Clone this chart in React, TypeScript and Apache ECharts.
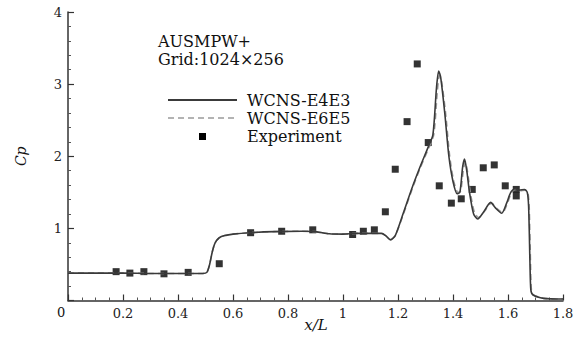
import React, { useEffect, useRef } from "react";
import * as echarts from "echarts";

const e4e3X = [0, 0.1, 0.2, 0.3, 0.4, 0.49, 0.505, 0.515, 0.525, 0.535, 0.55, 0.57, 0.6, 0.66, 0.75, 0.85, 0.9, 0.95, 1.0, 1.05, 1.1, 1.14, 1.155, 1.173, 1.19, 1.22, 1.25, 1.28, 1.31, 1.327, 1.34, 1.348, 1.355, 1.37, 1.385, 1.4, 1.415, 1.425, 1.435, 1.442, 1.45, 1.46, 1.475, 1.49, 1.51, 1.537, 1.555, 1.577, 1.595, 1.61, 1.625, 1.64, 1.66, 1.67, 1.675, 1.68, 1.683, 1.69, 1.73, 1.8];
const e4e3Y = [0.38, 0.38, 0.38, 0.375, 0.375, 0.375, 0.39, 0.5, 0.68, 0.8, 0.87, 0.9, 0.92, 0.94, 0.955, 0.96, 0.955, 0.925, 0.92, 0.93, 0.93, 0.93, 0.9, 0.84, 0.9, 1.22, 1.55, 1.85, 2.13, 2.3, 2.95, 3.18, 3.1, 2.6, 2.0, 1.65, 1.48, 1.5, 1.85, 1.96, 1.8, 1.5, 1.2, 1.13, 1.22, 1.36, 1.28, 1.21, 1.35, 1.5, 1.55, 1.53, 1.54, 1.5, 1.3, 0.5, 0.15, 0.08, 0.03, 0.02];

const e6e5X = [0, 0.1, 0.2, 0.3, 0.4, 0.49, 0.505, 0.515, 0.525, 0.535, 0.55, 0.57, 0.6, 0.66, 0.75, 0.85, 0.9, 0.95, 1.0, 1.05, 1.1, 1.14, 1.155, 1.174, 1.19, 1.22, 1.25, 1.28, 1.31, 1.33, 1.343, 1.351, 1.358, 1.373, 1.388, 1.403, 1.418, 1.428, 1.438, 1.445, 1.453, 1.463, 1.478, 1.493, 1.513, 1.54, 1.558, 1.58, 1.598, 1.613, 1.628, 1.643, 1.662, 1.672, 1.677, 1.682, 1.685, 1.692, 1.73, 1.8];
const e6e5Y = [0.38, 0.38, 0.38, 0.375, 0.375, 0.375, 0.39, 0.5, 0.68, 0.8, 0.87, 0.9, 0.92, 0.94, 0.955, 0.96, 0.955, 0.925, 0.92, 0.93, 0.93, 0.93, 0.9, 0.85, 0.9, 1.2, 1.53, 1.83, 2.1, 2.3, 2.9, 3.12, 3.05, 2.6, 2.0, 1.65, 1.5, 1.52, 1.82, 1.92, 1.78, 1.5, 1.22, 1.15, 1.23, 1.35, 1.28, 1.22, 1.35, 1.5, 1.54, 1.52, 1.53, 1.5, 1.3, 0.5, 0.15, 0.08, 0.03, 0.02];

const expX = [0.175, 0.225, 0.276, 0.349, 0.437, 0.55, 0.664, 0.777, 0.89, 1.035, 1.074, 1.114, 1.154, 1.19, 1.233, 1.27, 1.31, 1.35, 1.394, 1.43, 1.47, 1.51, 1.55, 1.59, 1.63, 1.63];
const expY = [0.4, 0.38, 0.4, 0.37, 0.39, 0.51, 0.94, 0.96, 0.98, 0.915, 0.96, 0.98, 1.23, 1.82, 2.48, 3.28, 2.19, 1.59, 1.35, 1.41, 1.54, 1.84, 1.88, 1.59, 1.54, 1.45];

const xTicks = [0, 0.2, 0.4, 0.6, 0.8, 1, 1.2, 1.4, 1.6, 1.8];
const yTicks = [0, 1, 2, 3, 4];

const FONT = "DejaVu Serif";

export default function App() {
  const ref = useRef<HTMLDivElement>(null);
  useEffect(() => {
    const chart = echarts.init(ref.current!, null, { renderer: "svg" });
    const pair = (xs: number[], ys: number[]) => xs.map((x, i) => [x, ys[i]]);
    const txt = (text: string, x: number, y: number, size: number, extra: any = {}) => ({
      type: "text",
      x,
      y,
      style: { text, fontFamily: FONT, fontSize: size, fill: "#111", textVerticalAlign: "middle", ...extra },
    });
    chart.setOption({
      animation: false,
      backgroundColor: "#fff",
      grid: { left: 68, right: 25, top: 12, bottom: 36.5, outerBoundsMode: "none", containLabel: false },
      xAxis: {
        type: "value",
        min: xTicks[0],
        max: xTicks[xTicks.length - 1],
        interval: 0.2,
        axisLine: { lineStyle: { color: "#333", width: 1.5 } },
        axisTick: { inside: true, length: 6, lineStyle: { color: "#333", width: 1.2 } },
        minorTick: { show: true, splitNumber: 4, length: 3, lineStyle: { color: "#555" } },
        splitLine: { show: false },
        axisLabel: {
          margin: 6,
          fontFamily: FONT,
          fontSize: 13,
          color: "#222",
          formatter: (v: number) => (v === 0 ? "" : String(+v.toFixed(1))),
        },
      },
      yAxis: {
        type: "value",
        min: yTicks[0],
        max: yTicks[yTicks.length - 1],
        interval: 1,
        name: "Cp",
        nameLocation: "middle",
        nameGap: 40,
        nameRotate: 90,
        nameTextStyle: { fontFamily: FONT, fontStyle: "italic", fontSize: 14, color: "#111" },
        axisLine: { show: true, lineStyle: { color: "#333", width: 1.5 } },
        axisTick: { show: true, inside: true, length: 6, lineStyle: { color: "#333", width: 1.2 } },
        minorTick: { show: true, splitNumber: 5, length: 3, lineStyle: { color: "#555" } },
        splitLine: { show: false },
        axisLabel: {
          margin: 6,
          fontFamily: FONT,
          fontSize: 13,
          color: "#222",
          formatter: (v: number) => (v === 0 ? "" : String(v)),
        },
      },
      series: [
        {
          name: "WCNS-E6E5",
          type: "line",
          data: pair(e6e5X, e6e5Y),
          symbol: "none",
          smooth: 0.25,
          lineStyle: { color: "#9a9a9a", width: 1.6, type: [6, 4] },
        },
        {
          name: "WCNS-E4E3",
          type: "line",
          data: pair(e4e3X, e4e3Y),
          symbol: "none",
          smooth: 0.25,
          lineStyle: { color: "#3a3a3a", width: 1.6 },
        },
        {
          name: "Experiment",
          type: "scatter",
          data: pair(expX, expY),
          symbol: "rect",
          symbolSize: 7,
          itemStyle: { color: "#000" },
        },
      ],
      graphic: [
        txt("0", 57, 312, 13),
        txt("x/L", 316, 325, 15, { fontStyle: "italic", textAlign: "center" }),
        txt("AUSMPW+", 158, 41, 16),
        txt("Grid:1024×256", 158, 59, 16),
        { type: "line", shape: { x1: 168, y1: 100, x2: 237, y2: 100 }, style: { stroke: "#3a3a3a", lineWidth: 1.8 } },
        { type: "line", shape: { x1: 168, y1: 118, x2: 237, y2: 118 }, style: { stroke: "#9a9a9a", lineWidth: 1.6, lineDash: [6, 4] } },
        { type: "rect", shape: { x: 199, y: 133, width: 7, height: 7 }, style: { fill: "#000" } },
        txt("WCNS-E4E3", 247, 100, 16),
        txt("WCNS-E6E5", 247, 118, 16),
        txt("Experiment", 247, 136, 16),
      ],
    });
    return () => chart.dispose();
  }, []);
  return <div ref={ref} style={{ width: 588, height: 337, position: "absolute", left: 0, top: 0 }} />;
}
